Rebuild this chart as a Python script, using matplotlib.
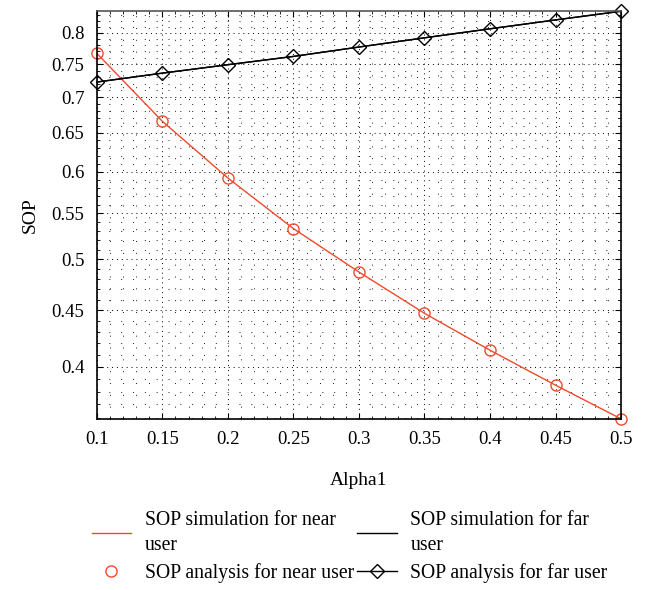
import matplotlib.pyplot as plt
import matplotlib.ticker as mticker
import numpy as np

plt.rcParams['font.family'] = ['Liberation Serif', 'DejaVu Serif']

alpha1 = [0.1, 0.15, 0.2, 0.25, 0.3, 0.35, 0.4, 0.45, 0.5]
sop_near = [0.767, 0.666, 0.592, 0.533, 0.487, 0.447, 0.414, 0.385, 0.359]
sop_far = [0.7225, 0.736, 0.749, 0.762, 0.777, 0.792, 0.807, 0.822, 0.837]

red = '#f04a2c'

fig = plt.figure(figsize=(6.45, 5.9), dpi=100)
ax = fig.add_axes([0.150, 0.290, 0.813, 0.691])

l1, = ax.plot(alpha1, sop_near, color=red, lw=1.0, label='SOP simulation for near\nuser')
l2, = ax.plot(alpha1, sop_far, color='black', lw=1.0, label='SOP simulation for far\nuser')
l3, = ax.plot(alpha1, sop_near, ls='none', marker='o', mfc='none', mec=red, ms=8,
              mew=1.0, label='SOP analysis for near user', clip_on=False)
l4, = ax.plot(alpha1, sop_far, color='black', lw=1.0, marker='D', mfc='none', ms=7,
              mew=1.0, label='SOP analysis for far user', clip_on=False)

ax.set_yscale('log')
ax.set_xlim(0.1, 0.5)
ax.set_ylim(0.359, 0.837)

ax.set_xticks(np.arange(0.1, 0.501, 0.05))
ax.set_xticklabels(['0.1', '0.15', '0.2', '0.25', '0.3', '0.35', '0.4', '0.45', '0.5'])
ax.xaxis.set_minor_locator(mticker.MultipleLocator(0.01))

yt = [0.4, 0.45, 0.5, 0.55, 0.6, 0.65, 0.7, 0.75, 0.8]
ax.yaxis.set_major_locator(mticker.FixedLocator(yt))
ax.yaxis.set_major_formatter(mticker.FixedFormatter(['0.4', '0.45', '0.5', '0.55', '0.6', '0.65', '0.7', '0.75', '0.8']))
ax.yaxis.set_minor_locator(mticker.FixedLocator(np.arange(0.36, 0.84, 0.01)))
ax.yaxis.set_minor_formatter(mticker.NullFormatter())

ax.grid(True, which='major', color='black', ls=(0, (1, 4)), lw=0.7)
ax.grid(True, which='minor', color='black', ls=(0, (1.2, 13)), lw=0.6)
ax.tick_params(which='both', direction='in', top=True, right=True, labelsize=13.5)
ax.tick_params(which='major', length=4)
ax.tick_params(which='minor', length=2)
ax.tick_params(axis='x', which='major', pad=9)
ax.tick_params(axis='y', which='major', pad=9)
for s in ax.spines.values():
    s.set_linewidth(1.2)
ax.spines['top'].set_color('#555555')

ax.set_xlabel('Alpha1', fontsize=14, labelpad=17)
ax.set_ylabel('SOP', fontsize=14, labelpad=9)

leg = fig.legend([l1, l3, l2, l4], [l1.get_label(), l3.get_label(), l2.get_label(), l4.get_label()],
                 ncol=2, loc='upper left', bbox_to_anchor=(0.13, 0.148), frameon=False,
                 fontsize=14.2, handlelength=2.0, columnspacing=0.15, handletextpad=0.7,
                 labelspacing=0.4, borderaxespad=0)
for t in leg.get_texts():
    t.set_linespacing(1.45)

fig.savefig('out.png', dpi=100)
